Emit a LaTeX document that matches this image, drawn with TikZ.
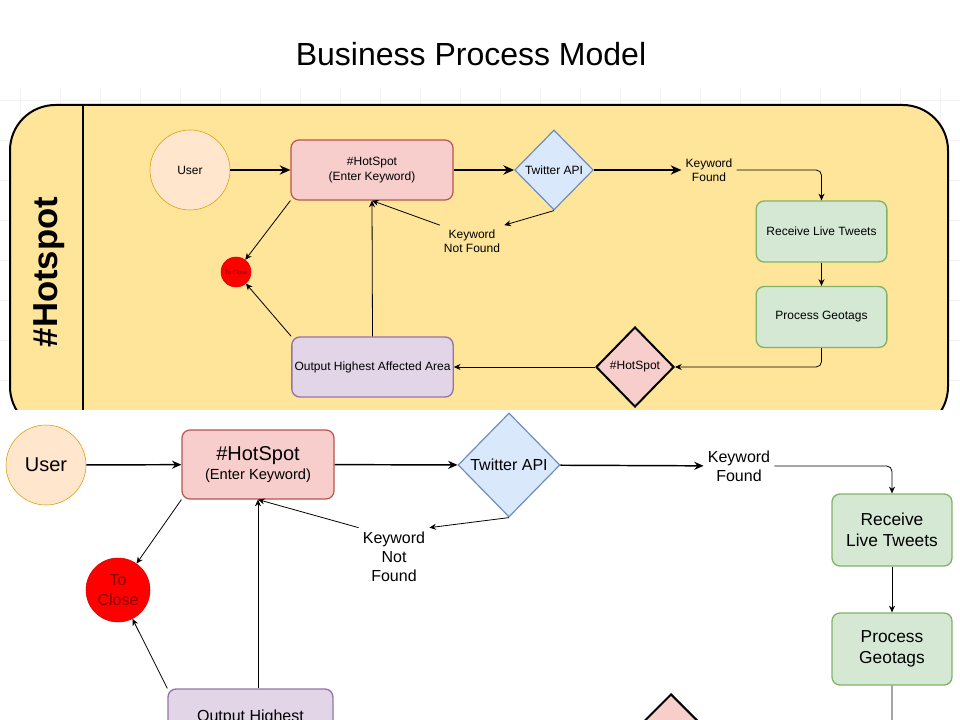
\documentclass[tikz,border=0pt]{standalone}
\usepackage{fontspec}
\setmainfont{Liberation Sans}
\usetikzlibrary{arrows.meta, positioning, shapes.geometric}
\definecolor{LaneYellow}{RGB}{255, 229, 153}
\definecolor{UserFill}{HTML}{FFE6CC}
\definecolor{UserLine}{HTML}{D79B00}
\definecolor{PinkFill}{HTML}{F8CECC}
\definecolor{PinkLine}{HTML}{B85450}
\definecolor{BlueFill}{HTML}{DAE8FC}
\definecolor{BlueLine}{HTML}{6C8EBF}
\definecolor{GreenFill}{HTML}{D5E8D4}
\definecolor{GreenLine}{HTML}{82B366}
\definecolor{PurpleFill}{HTML}{E1D5E7}
\definecolor{PurpleLine}{HTML}{9673A6}
\definecolor{CloseRed}{HTML}{FF0000}
\definecolor{CloseText}{HTML}{8C0000}
\newcommand{\fsz}[1]{\fontsize{#1}{\fpeval{1.2*#1}}\selectfont}

\begin{document}
\begin{tikzpicture}[
    x=0.75pt, y=-0.75pt,
    every node/.style={align=center, inner sep=3pt},
    lane/.style={draw, line width=1.5pt, fill=LaneYellow, rounded corners=34pt},
    usr/.style={circle, draw=UserLine, fill=UserFill, inner sep=0pt},
    pinkbox/.style={draw=PinkLine, fill=PinkFill, rounded corners=6pt, line width=0.9pt},
    api/.style={diamond, draw=BlueLine, fill=BlueFill, inner sep=0pt, line width=0.9pt},
    greenbox/.style={draw=GreenLine, fill=GreenFill, rounded corners=6pt, line width=1pt},
    purplebox/.style={draw=PurpleLine, fill=PurpleFill, rounded corners=6pt, line width=1pt},
    spot/.style={diamond, draw, fill=PinkFill, inner sep=0pt, line width=1.5pt},
    closer/.style={circle, draw=red!85!black, fill=CloseRed, text=CloseText, inner sep=0pt},
    flow/.style={-{Stealth[length=5pt, width=4.5pt]}, line width=0.6pt},
    midflow/.style={-{Stealth[length=7pt, width=6pt]}, line width=1.1pt},
    bigflow/.style={-{Stealth[length=8pt, width=7pt]}, line width=1.5pt},
    gridline/.style={black!5, line width=0.4pt}
]
\useasboundingbox (0,0) rectangle (960,720);
\clip (0,0) rectangle (960,720);

\node[font=\fsz{24}] (title) at (471,54) {Business Process Model};

% screenshot of the whole lane
\begin{scope}
  \clip (0,88) rectangle (960,409);
  \foreach \gx in {20,60,...,940} \draw[gridline] (\gx,88) -- (\gx,409);
  \foreach \gy in {100,140,...,400} \draw[gridline] (0,\gy) -- (960,\gy);
  \draw[lane] (10,105) rectangle (948,432);
  \draw[line width=1.5pt] (83,105) -- (83,432);
\end{scope}
\node[rotate=90, font=\bfseries\fsz{26}] (lanetitle) at (49,272) {\#Hotspot};

\node[usr, minimum size=60pt, font=\fsz{9}] (user) at (190,170) {User};
\node[pinkbox, minimum width=121.5pt, minimum height=45pt, font=\fsz{9}] (hs) at (372,170) {\#HotSpot\\(Enter Keyword)};
\node[api, minimum width=59pt, minimum height=60pt, font=\fsz{9}] (api) at (554,170) {Twitter API};
\node[font=\fsz{9}] (kf) at (709,170) {Keyword\\Found};
\node[greenbox, minimum width=98pt, minimum height=45.75pt, font=\fsz{9}] (rlt) at (821.5,231.5) {Receive Live Tweets};
\node[greenbox, minimum width=98pt, minimum height=45.75pt, font=\fsz{9}] (pg) at (821.5,317) {Process Geotags};
\node[spot, minimum width=58.5pt, minimum height=60pt, font=\fsz{9}] (hsd) at (635,367) {\#HotSpot};
\node[purplebox, minimum width=121pt, minimum height=45pt, inner sep=1pt, font=\fsz{9}] (out) at (372.5,367) {Output Highest Affected Area};
\node[closer, minimum size=22.5pt, font=\fsz{4.3}] (close) at (236,272) {To Close};
\node[font=\fsz{9}] (knf) at (472,241) {Keyword\\Not Found};

\draw[bigflow] (user) -- (hs);
\draw[bigflow] (hs) -- (api);
\draw[bigflow] (api) -- (kf);
\draw[flow, rounded corners=4pt] (kf.east) -| (rlt.north);
\draw[flow] (rlt) -- (pg);
\draw[flow, rounded corners=4pt] (pg.south) |- (hsd.east);
\draw[flow] (hsd) -- (out);
\draw[flow] (api.south) -- (knf.north east);
\draw[flow] (knf.north west) -- (hs.south);
\draw[flow] (out.north) -- (hs.south);
\draw[flow] (hs.south west) -- (close);
\draw[flow] (out.north west) -- (close);

% close-up below
\node[usr, minimum size=60pt, font=\fsz{15}] (user2) at (46,465) {User};
\node[pinkbox, minimum width=114pt, minimum height=51.75pt] (hs2) at (258,464.5) {\fsz{15}\#HotSpot\\[2pt]\fsz{11}(Enter Keyword)};
\node[api, minimum width=76.5pt, minimum height=78pt, font=\fsz{12}] (api2) at (509,465) {Twitter API};
\node[font=\fsz{12}] (kf2) at (739,466) {Keyword\\Found};
\node[greenbox, minimum width=90pt, minimum height=54pt, font=\fsz{13}] (rlt2) at (892,530) {Receive\\Live Tweets};
\node[greenbox, minimum width=90pt, minimum height=54pt, font=\fsz{13}] (pg2) at (892,649) {Process\\Geotags};
\node[spot, minimum size=78pt] (hsd2) at (671,746) {};
\node[purplebox, minimum width=123.75pt, minimum height=54pt, font=\fsz{12}] (out2) at (250.5,725) {Output Highest\\Affected Area};
\node[closer, minimum size=48pt, font=\fsz{12}] (close2) at (118,590) {To\\Close};
\node[font=\fsz{12}] (knf2) at (394,557) {Keyword\\Not\\Found};

\draw[midflow] (user2) -- (hs2);
\draw[midflow] (hs2) -- (api2);
\draw[midflow] (api2) -- (kf2);
\draw[flow, rounded corners=4pt] (kf2.east) -| (rlt2.north);
\draw[flow] (rlt2) -- (pg2);
\draw[flow, rounded corners=4pt] (pg2.south) |- (hsd2.east);
\draw[flow] (api2.south) -- (knf2.north east);
\draw[flow] (knf2.north west) -- (hs2.south);
\draw[flow] (hs2.south |- out2.north) -- (hs2.south);
\draw[flow] (hs2.south west) -- (close2);
\draw[flow] (out2.north west) -- (close2);
\end{tikzpicture}
\end{document}
